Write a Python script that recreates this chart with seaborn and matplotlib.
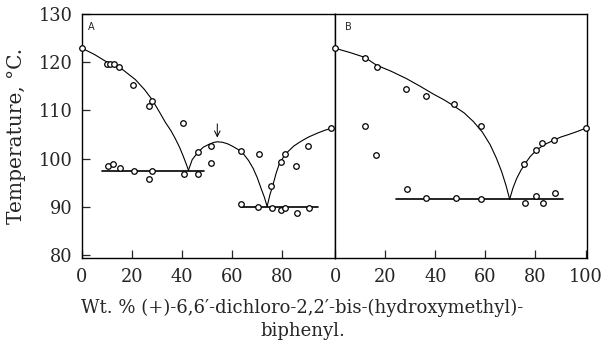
import matplotlib
matplotlib.use("Agg")
import matplotlib.pyplot as plt
import numpy as np
import pandas as pd
import seaborn as sns

# panel A: measured points
a_x = [0, 10, 11.1, 12.7, 14.8, 20.5, 26.7, 28, 40.2, 46.4, 51.5, 51.6, 63.6, 70.6,
       75.5, 79.5, 81.1, 85.4, 90.1, 99.5,
       10.4, 12.4, 15.1, 20.8, 26.9, 28, 40.6, 46.3,
       63.6, 70.4, 76.0, 79.4, 81.1, 85.7, 90.5]
a_y = [122.9, 119.7, 119.7, 119.7, 119.0, 115.3, 110.9, 112.0, 107.3, 101.3, 102.6, 99.0, 101.5, 100.9,
       94.4, 99.4, 100.9, 98.5, 102.6, 106.4,
       98.5, 98.8, 98.0, 97.5, 95.8, 97.5, 96.8, 96.8,
       90.7, 90.0, 89.8, 89.3, 89.8, 88.7, 89.8]

# panel B: measured points
b_x = [0, 12, 16.8, 28.5, 36.3, 47.6, 58.1, 11.9, 16.5, 75.6, 80.3, 82.5, 87.2, 100,
       28.7, 36.3, 48.1, 58.4, 75.9, 80.1, 82.9, 87.6]
b_y = [122.9, 120.9, 119.0, 114.5, 112.9, 111.3, 106.8, 106.7, 100.8, 98.9, 101.8, 103.3, 103.8, 106.4,
       93.8, 91.8, 91.8, 91.7, 90.9, 92.3, 90.9, 92.8]

# panel A: curves
a_liq1_x = [0, 5, 9.4, 15.4, 21.3, 25, 27.9, 31, 33.2, 35.5, 37.2, 39, 40.5, 41.6, 42.5]
a_liq1_y = [122.9, 121.6, 120.2, 118.8, 116.4, 114.3, 112.3, 109.6, 107.6, 105.8, 104.2, 102.3, 100.4, 98.9, 97.6]
a_hump_x = [42.5, 44, 46.4, 48.5, 50.4, 52.5, 54, 56, 58, 60, 62.3, 64.3, 66.5, 68.3, 70, 71.5, 72.8, 73.9]
a_hump_y = [97.6, 99.8, 101.4, 102.4, 102.9, 103.35, 103.5, 103.4, 103.1, 102.6, 101.9, 101.1, 99.6, 98.0,
            96.0, 93.8, 92.0, 90.1]
a_liq2_x = [73.9, 75, 76.2, 77.5, 78.8, 80.5, 82.1, 84.5, 87.4, 90.5, 94, 97, 99.5]
a_liq2_y = [90.1, 92.5, 94.5, 97.0, 99.0, 100.4, 101.4, 102.6, 103.6, 104.5, 105.3, 105.9, 106.3]
a_eut1_x = [8.1, 48.7]
a_eut1_y = [97.5, 97.5]
a_eut2_x = [63.6, 94.3]
a_eut2_y = [89.9, 89.9]

# panel B: curves
b_liq1_x = [0, 6, 11.9, 16.5, 22.5, 28.5, 34, 39.2, 43.5, 47.2, 51.5, 55.2, 58.8, 61.9, 64.4, 66.5, 68.2, 69.7]
b_liq1_y = [122.9, 122.0, 121.0, 119.4, 118.1, 116.6, 115.0, 113.4, 112.2, 111.0, 109.5, 107.7, 105.5,
            102.9, 100.1, 97.3, 94.5, 91.6]
b_liq2_x = [69.7, 71, 72.5, 74.2, 75.9, 78, 80.5, 83.5, 87.2, 90.2, 93.2, 96.5, 99.5]
b_liq2_y = [91.6, 93.9, 95.9, 97.6, 99.0, 100.5, 101.8, 102.9, 103.8, 104.5, 105.0, 105.6, 106.2]
b_eut_x = [24.5, 91.0]
b_eut_y = [91.6, 91.6]

sns.set_style("ticks")
plt.rcParams["font.family"] = ["DejaVu Serif", "DejaVu Sans"]

fig = plt.figure(figsize=(6.05, 3.47), dpi=100)
gs = fig.add_gridspec(1, 2, width_ratios=[101, 100.5], wspace=0,
                      left=0.1355, right=0.970, bottom=0.2565, top=0.9597)
ax_a = fig.add_subplot(gs[0])
ax_b = fig.add_subplot(gs[1], sharey=ax_a)


def draw_curve(ax, xs, ys, lw=0.8):
    sns.lineplot(x=xs, y=ys, ax=ax, color="black", linewidth=lw, sort=False, estimator=None)


def draw_points(ax, xs, ys):
    sns.scatterplot(x=xs, y=ys, ax=ax, marker="o", s=16, facecolor="white",
                    edgecolor="black", linewidth=0.9, clip_on=False, zorder=5)


draw_curve(ax_a, a_liq1_x, a_liq1_y)
draw_curve(ax_a, a_hump_x, a_hump_y)
draw_curve(ax_a, a_liq2_x, a_liq2_y)
draw_curve(ax_a, a_eut1_x, a_eut1_y, lw=1.2)
draw_curve(ax_a, a_eut2_x, a_eut2_y, lw=1.2)
draw_points(ax_a, a_x, a_y)

draw_curve(ax_b, b_liq1_x, b_liq1_y)
draw_curve(ax_b, b_liq2_x, b_liq2_y)
draw_curve(ax_b, b_eut_x, b_eut_y, lw=1.2)
draw_points(ax_b, b_x, b_y)

ax_a.annotate("", xy=(54.0, 103.8), xytext=(54.0, 107.8),
              arrowprops=dict(arrowstyle="->", color="black", lw=0.7))

ax_a.set_xlim(0, 101)
ax_b.set_xlim(0, 100.5)
ax_a.set_ylim(79.4, 130)
ax_a.set_xticks([0, 20, 40, 60, 80])
ax_b.set_xticks([0, 20, 40, 60, 80, 100])
ax_a.set_yticks([80, 90, 100, 110, 120, 130])

for ax in (ax_a, ax_b):
    for sp in ax.spines.values():
        sp.set_visible(True)
        sp.set_linewidth(1.0)
        sp.set_color("black")
    ax.tick_params(direction="in", length=6, width=0.9, labelsize=12.8, pad=7)
ax_b.tick_params(axis="y", left=False, labelleft=False)

ax_a.text(3.5, 127.3, "A", fontsize=7, family="DejaVu Sans", ha="center", va="center")
ax_b.text(5.3, 127.3, "B", fontsize=7, family="DejaVu Sans", ha="center", va="center")

ax_a.set_ylabel("Temperature, °C.", fontsize=14.5, labelpad=9)
ax_a.set_xlabel("")
ax_b.set_xlabel("")

fig.text(0.5, 1 - 308 / 347, "Wt. % (+)-6,6\u2032-dichloro-2,2\u2032-bis-(hydroxymethyl)-",
         ha="center", va="center", fontsize=13)
fig.text(0.5, 1 - 331 / 347, "biphenyl.", ha="center", va="center", fontsize=13)

fig.savefig("out.png", dpi=100)
